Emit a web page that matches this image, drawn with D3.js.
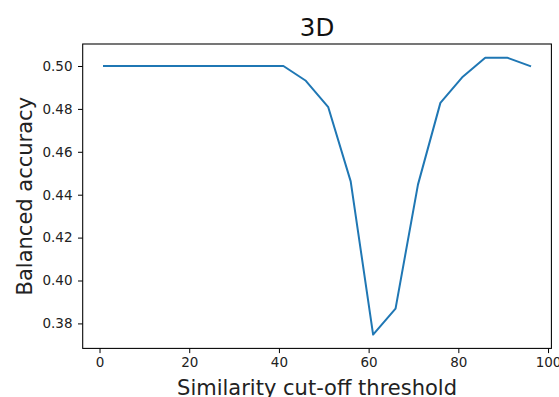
<!DOCTYPE html>
<html>
<head>
<meta charset="utf-8">
<script src="https://cdn.jsdelivr.net/npm/d3@7"></script>
<style>
  html, body { margin: 0; padding: 0; background: #fff; }
  svg { display: block; }
  text { font-family: "DejaVu Sans", sans-serif; }
</style>
</head>
<body>
<svg id="chart" width="559" height="397"></svg>
<script>
// Data
const thresholds = [1, 6, 11, 16, 21, 26, 31, 36, 41, 46, 51, 56, 61, 66, 71, 76, 81, 86, 91, 96];
const accuracy = [0.500, 0.500, 0.500, 0.500, 0.500, 0.500, 0.500, 0.500, 0.500, 0.4931, 0.4808, 0.4462, 0.3748, 0.3869, 0.4447, 0.4828, 0.4950, 0.5038, 0.5038, 0.500];
const xTicks = [0, 20, 40, 60, 80, 100];
const yTicks = [0.38, 0.40, 0.42, 0.44, 0.46, 0.48, 0.50];
const titleText = "3D";
const xLabel = "Similarity cut-off threshold";
const yLabel = "Balanced accuracy";

(function () {
const mLeft = 82.7, mRight = 551.4, mTop = 44, mBottom = 348.4;

const svg = d3.select("#chart");

// matplotlib-like 5% margins
const xMin = d3.min(thresholds), xMax = d3.max(thresholds);
const yMin = d3.min(accuracy), yMax = d3.max(accuracy);
const xPad = (xMax - xMin) * 0.05, yPad = (yMax - yMin) * 0.05;

const x = d3.scaleLinear().domain([xMin - xPad, xMax + xPad]).range([mLeft, mRight]);
const y = d3.scaleLinear().domain([yMin - yPad, yMax + yPad]).range([mBottom, mTop]);

const fontTick = 13.5;

// X axis
const xAxis = svg.append("g")
  .attr("transform", `translate(0,${mBottom})`)
  .call(d3.axisBottom(x).tickValues(xTicks).tickFormat(d3.format("d")).tickSize(4.7).tickPadding(4.5));
xAxis.select(".domain").remove();
xAxis.selectAll("line").attr("stroke", "#000").attr("stroke-width", 1);
xAxis.selectAll("text").attr("font-size", fontTick).attr("fill", "#222").attr("font-family", "DejaVu Sans");

// Y axis
const yAxis = svg.append("g")
  .attr("transform", `translate(${mLeft},0)`)
  .call(d3.axisLeft(y).tickValues(yTicks).tickFormat(d3.format(".2f")).tickSize(4.7).tickPadding(5.5));
yAxis.select(".domain").remove();
yAxis.selectAll("line").attr("stroke", "#000").attr("stroke-width", 1);
yAxis.selectAll("text").attr("font-size", fontTick).attr("fill", "#222").attr("font-family", "DejaVu Sans");

// Line
const line = d3.line().x((d, i) => x(thresholds[i])).y(d => y(d));
svg.append("path")
  .datum(accuracy)
  .attr("fill", "none")
  .attr("stroke", "#1f77b4")
  .attr("stroke-width", 2)
  .attr("stroke-linejoin", "round")
  .attr("stroke-linecap", "square")
  .attr("d", line);

// Frame
svg.append("rect")
  .attr("x", mLeft).attr("y", mTop)
  .attr("width", mRight - mLeft).attr("height", mBottom - mTop)
  .attr("fill", "none").attr("stroke", "#000").attr("stroke-width", 1.07);

// Title
svg.append("text")
  .attr("x", (mLeft + mRight) / 2).attr("y", 35.5)
  .attr("text-anchor", "middle")
  .attr("font-size", 24.5)
  .attr("fill", "#111")
  .text(titleText);

// X label
svg.append("text")
  .attr("x", (mLeft + mRight) / 2).attr("y", 395)
  .attr("text-anchor", "middle")
  .attr("font-size", 21)
  .attr("fill", "#222")
  .text(xLabel);

// Y label
svg.append("text")
  .attr("transform", `translate(32,${(mTop + mBottom) / 2}) rotate(-90)`)
  .attr("text-anchor", "middle")
  .attr("font-size", 21)
  .attr("fill", "#222")
  .text(yLabel);
})();
</script>
</body>
</html>
